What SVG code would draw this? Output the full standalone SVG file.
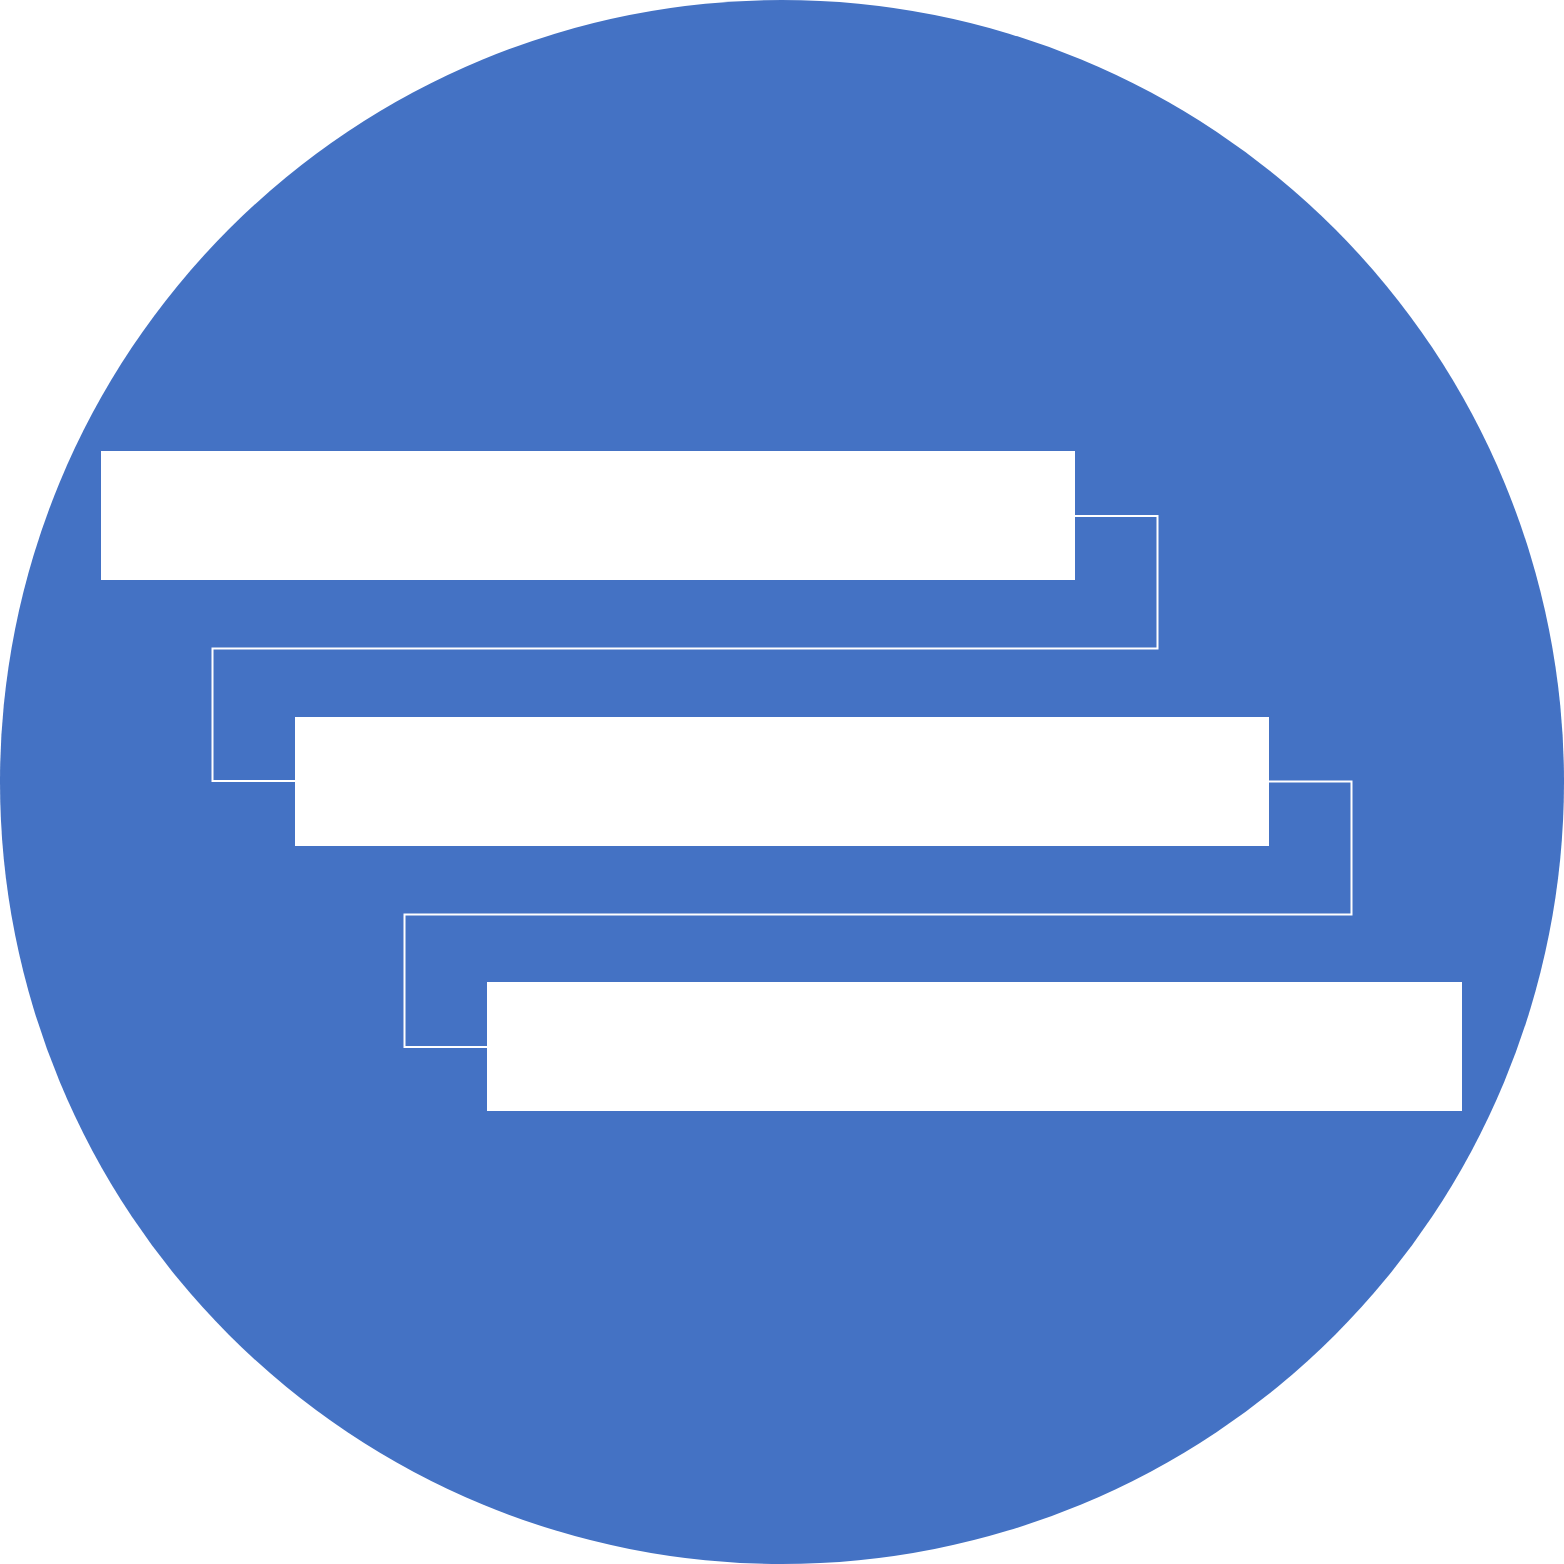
<svg xmlns="http://www.w3.org/2000/svg" width="1564" height="1564" viewBox="0 0 1564 1564">
<style>
.node{fill:#ffffff;stroke:none}
.conn{fill:none;stroke:#ffffff;stroke-width:2}
</style>
<rect width="1564" height="1564" fill="#ffffff"/>
<circle id="background" cx="782" cy="782" r="782" fill="#4472c4"/>
<g id="connectors">
<path class="conn" d="M1075,516 H1157.5 V648.5 H212.5 V781 H295"/>
<path class="conn" d="M1269,781.5 H1351.5 V914.5 H404.5 V1047 H487"/>
</g>
<g id="node1"><rect class="node" x="101" y="451" width="974" height="129"/></g>
<g id="node2"><rect class="node" x="295" y="717" width="974" height="129"/></g>
<g id="node3"><rect class="node" x="487" y="982" width="975" height="129"/></g>
</svg>
